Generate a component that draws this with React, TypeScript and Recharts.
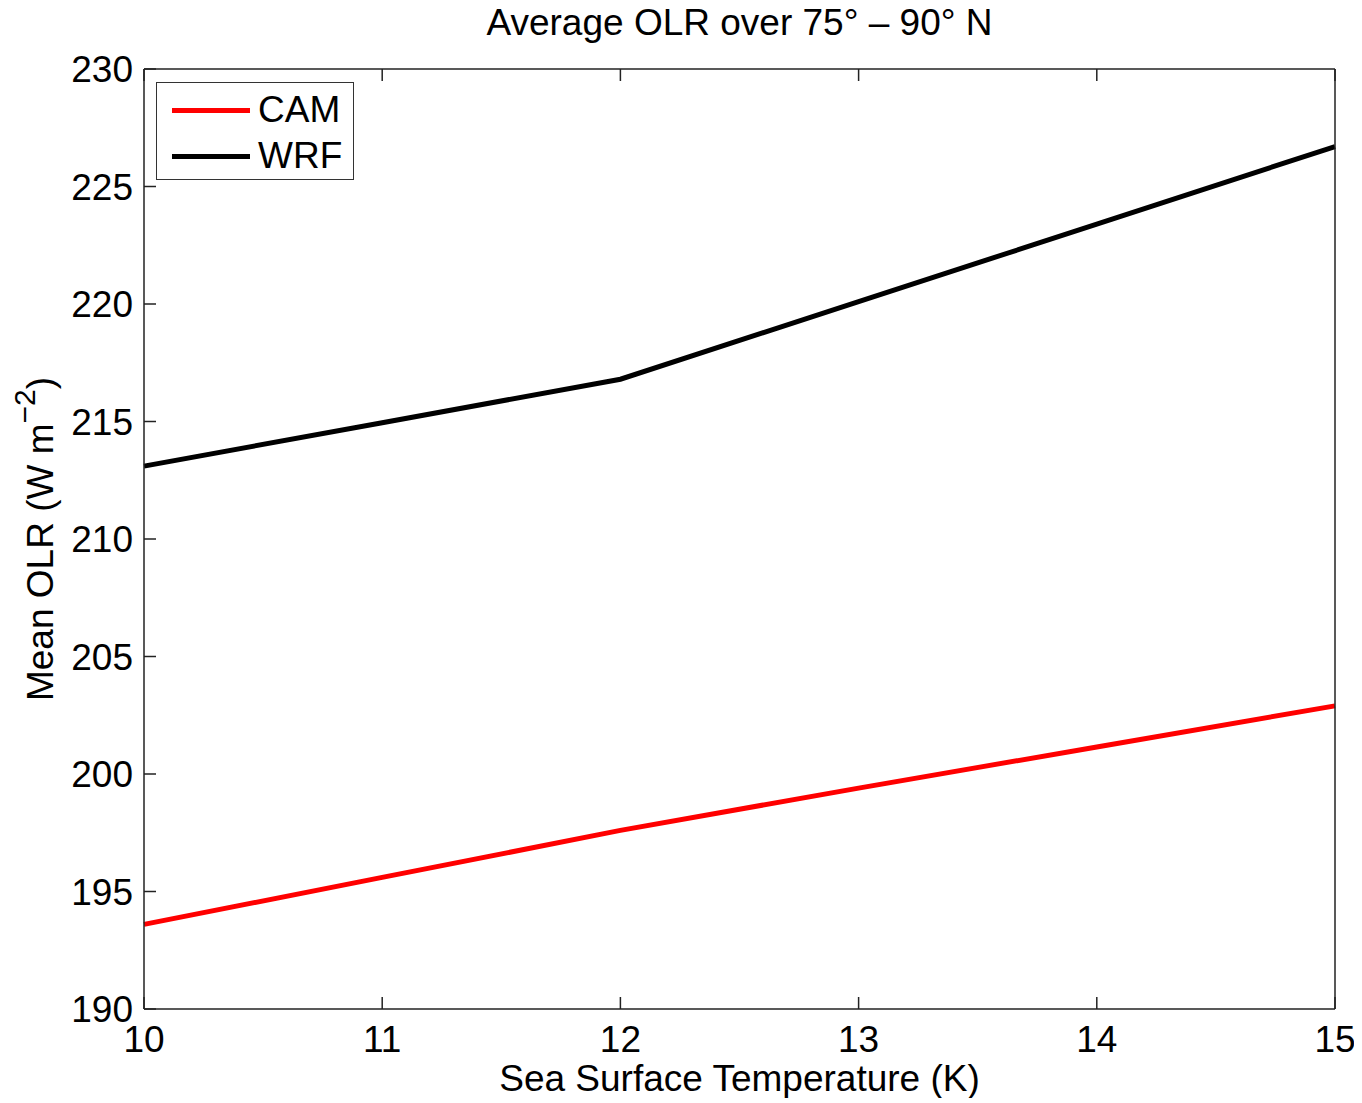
import React from 'react'
import { LineChart, Line, XAxis, YAxis, Legend } from 'recharts'

// sea surface temperature (x) and mean OLR per model
const sst = [10, 11, 12, 13, 14, 15]
const camOlr = [193.6, 195.6, 197.6, 199.4, 201.15, 202.9]
const wrfOlr = [213.1, 214.95, 216.8, 220.1, 223.4, 226.7]
const xTicks = [10, 11, 12, 13, 14, 15]
const yTicks = [190, 195, 200, 205, 210, 215, 220, 225, 230]

const chartData = sst.map((x, i) => ({ x, cam: camOlr[i], wrf: wrfOlr[i] }))

const FONT = '"Liberation Sans", Arial, Helvetica, sans-serif'
const AXIS = '#222'
const TICK_LEN = 12

const BottomTick = ({ x, y, payload }: any) => (
  <g>
    <line x1={x} x2={x} y1={y} y2={y - TICK_LEN} stroke={AXIS} strokeWidth={1.5} />
    <text x={x} y={y + 43} textAnchor="middle" fontSize={37} fontFamily={FONT} fill="#000">
      {payload.value}
    </text>
  </g>
)

const TopTick = ({ x, y }: any) => (
  <line x1={x} x2={x} y1={y} y2={y + TICK_LEN} stroke={AXIS} strokeWidth={1.5} />
)

const LeftTick = ({ x, y, payload }: any) => (
  <g>
    <line x1={x} x2={x + TICK_LEN} y1={y} y2={y} stroke={AXIS} strokeWidth={1.5} />
    <text x={x - 11} y={y + 13} textAnchor="end" fontSize={37} fontFamily={FONT} fill="#000">
      {payload.value}
    </text>
  </g>
)

const RightTick = ({ x, y }: any) => (
  <line x1={x} x2={x - TICK_LEN} y1={y} y2={y} stroke={AXIS} strokeWidth={1.5} />
)

const YLabel = ({ viewBox }: any) => {
  const cx = 32
  const cy = viewBox.y + viewBox.height / 2
  return (
    <text
      x={cx}
      y={cy}
      transform={`rotate(-90 ${cx} ${cy})`}
      textAnchor="middle"
      fontSize={37}
      fontFamily={FONT}
      fill="#000"
      dominantBaseline="central"
    >
      Mean OLR (W m
      <tspan dy={-16} fontSize={30}>−2</tspan>
      <tspan dy={16}>)</tspan>
    </text>
  )
}

const XLabel = ({ viewBox }: any) => (
  <text
    x={viewBox.x + viewBox.width / 2}
    y={viewBox.y + 82}
    textAnchor="middle"
    fontSize={37}
    fontFamily={FONT}
    fill="#000"
  >
    Sea Surface Temperature (K)
  </text>
)

const LegendBox = ({ payload }: any) => (
  <div
    style={{
      border: '1.5px solid #333',
      background: '#fff',
      width: 198,
      height: 98,
      boxSizing: 'border-box',
      padding: '4px 0 0 15px',
      fontFamily: FONT,
      fontSize: 37,
      lineHeight: '46px',
    }}
  >
    {(payload || []).map((p: any) => (
      <div key={p.value} style={{ display: 'flex', alignItems: 'center' }}>
        <div style={{ width: 78, height: 5, background: p.color, marginRight: 8 }} />
        <span>{p.value}</span>
      </div>
    ))}
  </div>
)

export default function App() {
  return (
    <div style={{ position: 'relative', width: 1350, height: 1090, background: '#fff' }}>
      <div
        style={{
          position: 'absolute',
          left: 0,
          top: -6,
          width: 1463,
          textAlign: 'center',
          fontFamily: FONT,
          fontSize: 37,
          zIndex: 2,
        }}
      >
        Average OLR over 75° – 90° N
      </div>
      <LineChart
        width={1350}
        height={1090}
        data={chartData}
        margin={{ top: 60, right: 22, bottom: 0, left: 0 }}
      >
        <XAxis
          dataKey="x"
          type="number"
          domain={[10, 15]}
          ticks={xTicks}
          tickLine={false}
          tickSize={0}
          tickMargin={0}
          height={89}
          axisLine={{ stroke: AXIS, strokeWidth: 1.5 }}
          tick={<BottomTick />}
          interval={0}
          label={<XLabel />}
        />
        <XAxis
          xAxisId="top"
          orientation="top"
          dataKey="x"
          type="number"
          domain={[10, 15]}
          ticks={xTicks}
          tickLine={false}
          tickSize={0}
          tickMargin={0}
          height={1}
          axisLine={{ stroke: AXIS, strokeWidth: 1.5 }}
          tick={<TopTick />}
          interval={0}
        />
        <YAxis
          type="number"
          domain={[190, 230]}
          ticks={yTicks}
          tickLine={false}
          tickSize={0}
          tickMargin={0}
          width={136}
          axisLine={{ stroke: AXIS, strokeWidth: 1.5 }}
          tick={<LeftTick />}
          interval={0}
          label={<YLabel />}
        />
        <YAxis
          yAxisId="right"
          orientation="right"
          type="number"
          domain={[190, 230]}
          ticks={yTicks}
          tickLine={false}
          tickSize={0}
          tickMargin={0}
          width={1}
          axisLine={{ stroke: AXIS, strokeWidth: 1.5 }}
          tick={<RightTick />}
          interval={0}
        />
        <Legend
          layout="vertical"
          align="center"
          verticalAlign="middle"
          wrapperStyle={{ left: 148, top: 74, width: 'auto' }}
          content={<LegendBox />}
        />
        <Line
          dataKey="cam"
          name="CAM"
          stroke="#ff0000"
          strokeWidth={5}
          dot={false}
          isAnimationActive={false}
        />
        <Line
          dataKey="wrf"
          name="WRF"
          stroke="#000000"
          strokeWidth={5}
          dot={false}
          isAnimationActive={false}
        />
      </LineChart>
    </div>
  )
}
